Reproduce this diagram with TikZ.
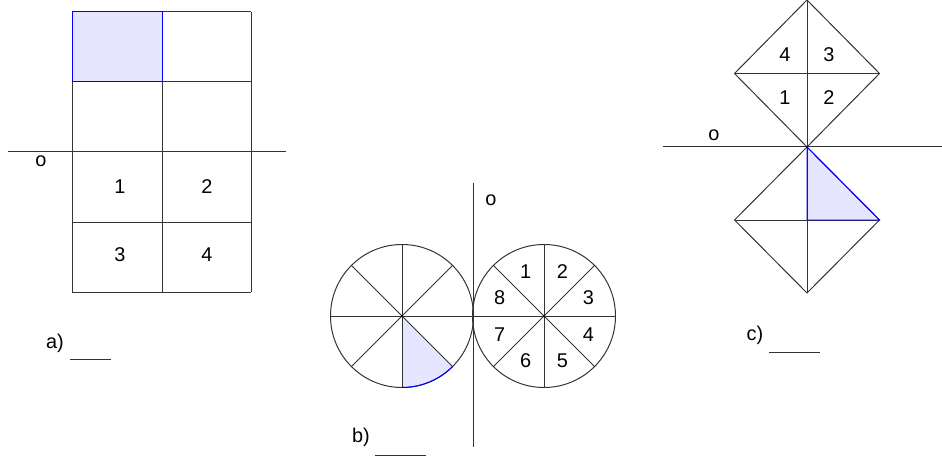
\documentclass[tikz,border=0pt]{standalone}
\usepackage{fontspec}
\setmainfont{Liberation Sans}
\usepackage{tikz}
\usetikzlibrary{calc}
\tikzset{fig/.style={draw=black!80, line width=0.85pt}}
\tikzset{shade/.style={fill=blue!10}}
\tikzset{edge/.style={draw=blue, line width=0.85pt}}
\tikzset{lbl/.style={font=\fontsize{17}{19}\selectfont, inner sep=0pt}}

\begin{document}
\begin{tikzpicture}[x=0.03cm,y=-0.03cm]
				\useasboundingbox (0,0) rectangle (942,457);
				% a) grid and line
				\fill[shade] (72,12) rectangle (162,82);
				\foreach \y in {12,82,...,292}
					\draw[fig] (72,\y) -- (251,\y);
				\foreach \x in {72,162,251}
					\draw[fig] (\x,12) -- (\x,292);
				\draw[edge] (72,12) rectangle (162,82);
				\draw[fig] (8,152) -- (286,152);
				% a) labels
				\node[lbl] (oa) at (41,161) {o};
				\node[lbl] (a1) at (120,187) {1};
				\node[lbl] (a2) at (207,187) {2};
				\node[lbl] (a3) at (120,255) {3};
				\node[lbl] (a4) at (207,255) {4};
				\node[lbl] (la) at (55,343) {a)};
				\draw[fig] (70,359) -- (111,359);
				% b) circles and line
				\coordinate (cl) at (402,316);
				\coordinate (cr) at (544,316);
				\fill[shade] (cl) -- ($(cl)+(-90:2.145cm)$) arc[start angle=-90, end angle=-45, radius=2.145cm] -- cycle;
				\foreach \c in {cl,cr}{
					\draw[fig] (\c) circle[radius=2.145cm];
					\foreach \a in {0,45,90,135}
						\draw[fig] ($(\c)+(\a:2.145cm)$) -- ($(\c)+(\a+180:2.145cm)$);
					\fill[black] (\c) circle (0.9pt);
				}
				\draw[edge] ($(cl)+(-90:2.145cm)$) arc[start angle=-90, end angle=-45, radius=2.145cm];
				\draw[fig] (473,183) -- (473,447);
				% b) labels
				\node[lbl] (ob) at (491,200) {o};
				\foreach \n/\a in {1/112.5,2/67.5,3/22.5,4/-22.5,5/-67.5,6/-112.5,7/-157.5,8/157.5}
					\node[lbl] (b\n) at ($(cr)+(\a:1.44cm)$) {\n};
				\node[lbl] (lb) at (361,437) {b)};
				\draw[fig] (375,455) -- (426,455);
				% c) diamonds and line
				\fill[shade] (807,147) -- (879.5,220) -- (807,220) -- cycle;
				\draw[fig] (807,0) -- (879.5,73.5) -- (807,147) -- (734.5,73.5) -- cycle;
				\draw[fig] (807,147) -- (879.5,220) -- (807,293) -- (734.5,220) -- cycle;
				\draw[fig] (807,0) -- (807,293);
				\draw[fig] (734.5,73.5) -- (879.5,73.5);
				\draw[fig] (734.5,220) -- (879.5,220);
				\draw[edge] (807,147) -- (879.5,220) -- (807,220) -- cycle;
				\draw[fig] (663,147) -- (942,147);
				\fill[black] (807,147) circle (0.9pt);
				% c) labels
				\node[lbl] (oc) at (714,135) {o};
				\node[lbl] (c4) at (785,55) {4};
				\node[lbl] (c3) at (829,55) {3};
				\node[lbl] (c1) at (785,98) {1};
				\node[lbl] (c2) at (829,98) {2};
				\node[lbl] (lc) at (755,335) {c)};
				\draw[fig] (769,352) -- (820,352);
\end{tikzpicture}
\end{document}
